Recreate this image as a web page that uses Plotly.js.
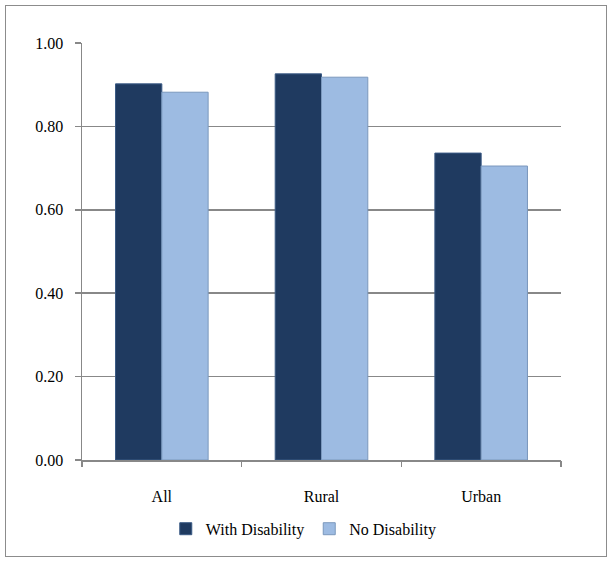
<!DOCTYPE html>
<html>
<head>
<meta charset="utf-8">
<script src="https://cdn.plot.ly/plotly-3.0.1.min.js"></script>
<style>
html,body{margin:0;padding:0;background:#fff;}
#wrap{position:relative;width:612px;height:562px;}
#chart{width:612px;height:562px;}
#chart svg text{font-family:"Liberation Serif", serif !important;}
#frame{position:absolute;left:5px;top:5px;width:600px;height:550px;border:1px solid #8c8c8c;pointer-events:none;}
</style>
</head>
<body>
<div id="wrap"><div id="chart"></div><div id="frame"></div></div>
<script>
var categories = ["All", "Rural", "Urban"];
var withDisability = [0.902, 0.926, 0.736];
var noDisability = [0.882, 0.918, 0.705];
var seriesNames = ["With Disability", "No Disability"];
var yTicks = [0, 0.2, 0.4, 0.6, 0.8, 1.0];
var yTickText = ["0.00", "0.20", "0.40", "0.60", "0.80", "1.00"];

var FAM = "Liberation Serif";

var traces = [
  {type: "bar", x: categories, y: withDisability, name: seriesNames[0],
   marker: {color: "#1f3a60", line: {color: "#3a5a85", width: 1}}},
  {type: "bar", x: categories, y: noDisability, name: seriesNames[1],
   marker: {color: "#9dbbe2", line: {color: "#7b98bd", width: 1}}}
];

var layout = {
  width: 612, height: 562,
  margin: {l: 82, r: 51, t: 43, b: 102},
  paper_bgcolor: "#ffffff", plot_bgcolor: "#ffffff",
  font: {family: FAM, size: 16, color: "#000000"},
  showlegend: true,
  barmode: "group",
  bargap: 0.42,
  bargroupgap: 0,
  xaxis: {
    type: "category",
    tickvals: categories,
    ticktext: categories.map(function(c){ return "<br>" + c; }),
    showline: true, linecolor: "#888888", linewidth: 1.5,
    ticks: "", showgrid: false, zeroline: false,
    tickfont: {family: FAM, size: 16, color: "#000000"}
  },
  xaxis2: {
    overlaying: "x", side: "bottom", anchor: "y",
    range: [-0.5, categories.length - 0.5],
    tickvals: categories.map(function(c, i){ return i - 0.5; }).concat([categories.length - 0.5]),
    showticklabels: false,
    ticks: "outside", ticklen: 6, tickcolor: "#888888", tickwidth: 1.5,
    showline: false, showgrid: false, zeroline: false
  },
  yaxis: {
    range: [0, 1.0],
    tickvals: yTicks, ticktext: yTickText.map(function(t){ return t + "\u00a0\u00a0"; }),
    showline: true, linecolor: "#888888", linewidth: 1.5,
    ticks: "outside", ticklen: 6, tickcolor: "#888888", tickwidth: 1.5,
    showgrid: true, gridcolor: "#888888", gridwidth: 1.5,
    zeroline: false,
    tickfont: {family: FAM, size: 16, color: "#000000"}
  },
  legend: {
    orientation: "h", x: 0.463, xanchor: "center", y: -0.165, yanchor: "middle",
    font: {family: FAM, size: 16, color: "#000000"}, bgcolor: "rgba(0,0,0,0)"
  }
};

var helper = {type: "scatter", x: [-0.5, categories.length - 0.5], y: [0, 0], xaxis: "x2", yaxis: "y",
  mode: "lines", line: {width: 0}, showlegend: false, hoverinfo: "skip"};

Plotly.newPlot("chart", traces.concat([helper]), layout, {displayModeBar: false, staticPlot: true}).then(function(gd){
  return Plotly.relayout(gd, {"font.family": FAM});
});
</script>
</body>
</html>
